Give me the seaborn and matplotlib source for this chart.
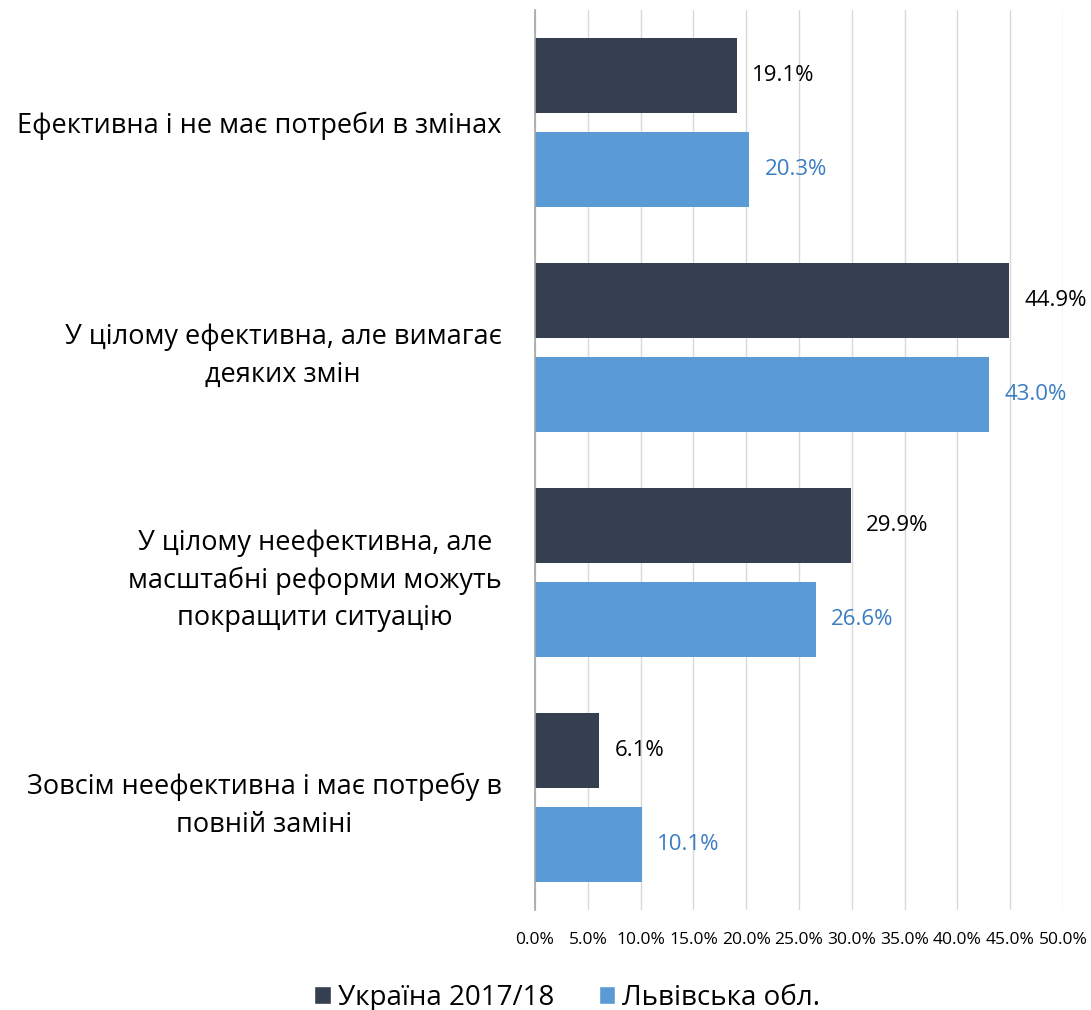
import pandas as pd
import numpy as np
import matplotlib
matplotlib.use('Agg')
import matplotlib.pyplot as plt
import seaborn as sns
from matplotlib.patches import Patch

# data
categories = ['Ефективна і не має потреби в змінах',
              'У цілому ефективна, але вимагає\nдеяких змін',
              'У цілому неефективна, але\nмасштабні реформи можуть\nпокращити ситуацію',
              'Зовсім неефективна і має потребу в\nповній заміні']
series = ['Україна 2017/18', 'Львівська обл.']
ukraine = [19.1, 44.9, 29.9, 6.1]
lviv = [20.3, 43.0, 26.6, 10.1]
ticks = [0, 5, 10, 15, 20, 25, 30, 35, 40, 45, 50]

colors = ['#353F50', '#5B9BD5']
label_colors = ['#000000', '#3A7DC2']

df = pd.DataFrame({
    'cat': categories * 2,
    'series': [series[0]] * 4 + [series[1]] * 4,
    'val': ukraine + lviv,
})

sns.set_style('white')
plt.rcParams['font.family'] = ['Open Sans', 'DejaVu Sans']

fig = plt.figure(figsize=(10.91, 10.10), dpi=100)
ax = fig.add_axes([0.4904, 0.099, 0.4839, 0.891])

sns.barplot(data=df, x='val', y='cat', hue='series', orient='h',
            palette=colors, width=0.836, gap=0.2, ax=ax, legend=False,
            saturation=1, edgecolor='none')

ax.set_xlim(0, 50)
ax.set_ylim(3.5, -0.5)
ax.set_xticks(ticks)
ax.set_xticklabels([f'{t:.1f}%' for t in ticks], fontsize=12.5, color='black')
ax.tick_params(axis='x', length=0, pad=16)
ax.tick_params(axis='y', length=0, pad=24)
for lab in ax.get_yticklabels():
    lab.set_fontsize(19.5)
    lab.set_color('black')
    lab.set_multialignment('center')
    lab.set_linespacing(1.45)
ax.set_xlabel('')
ax.set_ylabel('')
ax.grid(axis='x', color='#D9D9D9', linewidth=1)
ax.set_axisbelow(True)
for s in ['top', 'right', 'bottom']:
    ax.spines[s].set_visible(False)
ax.spines['left'].set_color('#A6A6A6')
ax.spines['left'].set_linewidth(1.2)

for i, cont in enumerate(ax.containers):
    ax.bar_label(cont, labels=[f'{v:.1f}%' for v in cont.datavalues],
                 padding=11, fontsize=16, color=label_colors[i])

handles = [Patch(facecolor=c, label=s) for c, s in zip(colors, series)]
fig.legend(handles=handles, loc='center', bbox_to_anchor=(0.52, 0.012),
           ncol=2, frameon=False, fontsize=20, handlelength=0.6,
           handleheight=0.6, handletextpad=0.25, columnspacing=1.6,
           labelcolor='black')

fig.savefig('out.png', dpi=100)
